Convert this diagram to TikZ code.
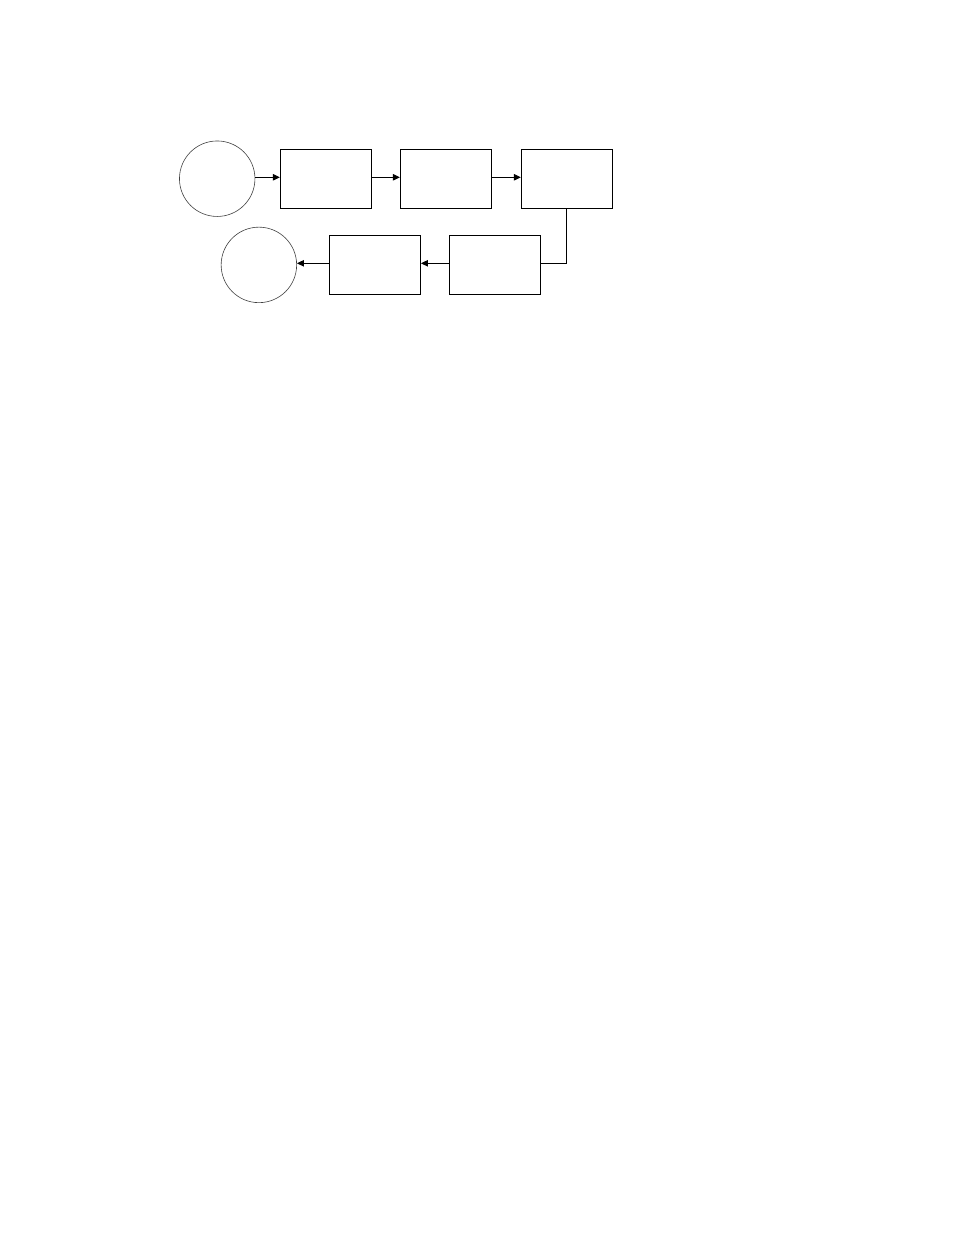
\documentclass[tikz,border=0pt]{standalone}
\usetikzlibrary{arrows.meta}
\begin{document}
\begin{tikzpicture}[x=1pt,y=-1pt,
  endpoint/.style={circle,draw=black!75,line width=0.6pt,minimum size=75.5pt,inner sep=0pt},
  stepbox/.style={rectangle,draw=black,line width=0.9pt,minimum width=91.4pt,minimum height=59.4pt,inner sep=0pt},
  flow/.style={draw=black,line width=0.9pt,-{Triangle[length=7pt,width=6.5pt]}}]
\useasboundingbox (0,0) rectangle (954,1235);
\node[endpoint] (c1) at (217.2,178.7) {};
\node[stepbox] (b1) at (326,179) {};
\node[stepbox] (b2) at (446,179) {};
\node[stepbox] (b3) at (567,179) {};
\node[stepbox] (b4) at (494.8,264.8) {};
\node[stepbox] (b5) at (374.8,264.8) {};
\node[endpoint] (c2) at (258.9,264.9) {};
\coordinate (k) at (566.3,263.3);
\draw[flow] (c1.east |- 0,177.3) -- (b1.west |- 0,177.3);
\draw[flow] (b1.east |- 0,177.3) -- (b2.west |- 0,177.3);
\draw[flow] (b2.east |- 0,177.3) -- (b3.west |- 0,177.3);
\draw[line width=0.9pt] (b3.south -| k) -- (k) -- (b4.east |- k);
\draw[flow] (b4.west |- k) -- (b5.east |- k);
\draw[flow] (b5.west |- k) -- (c2.east |- k);
\end{tikzpicture}
\end{document}
